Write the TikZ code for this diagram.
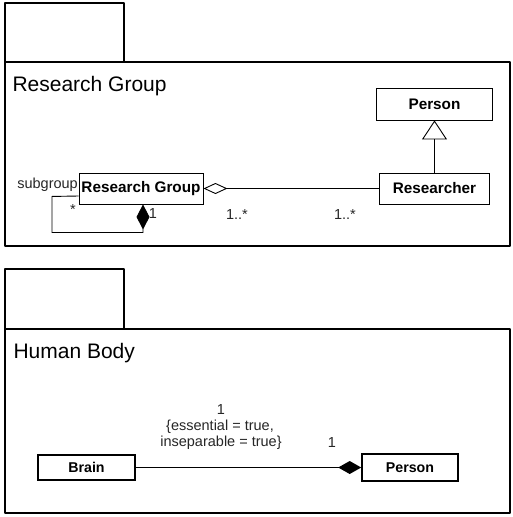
\documentclass[tikz,border=0pt]{standalone}
\usepackage{fontspec}
\setmainfont{Liberation Sans}
\usetikzlibrary{arrows.meta,calc}
\begin{document}
\begin{tikzpicture}[x=1pt,y=-1pt,
  pkg/.style={draw,line width=2.4pt,line join=round},
  cls/.style={draw,line width=0.9pt,inner sep=0pt,font=\bfseries\fontsize{15.3}{17}\selectfont},
  clsb/.style={cls,line width=1.6pt,font=\bfseries\fontsize{14.2}{16}\selectfont},
  title/.style={anchor=west,font=\fontsize{21}{25}\selectfont},
  lbl/.style={inner sep=0pt,font=\fontsize{14.5}{17}\selectfont,text=black!85},
  conn/.style={line width=0.9pt}]
\useasboundingbox (0,0) rectangle (512,517);
% package 1
\draw[pkg] (5,3) rectangle (124,62);
\draw[pkg] (5,62) rectangle (510,246);
\node[title] (t1) at (9,86) {Research Group};
\node[cls,minimum width=116pt,minimum height=32pt] (person1) at (434.5,104) {Person};
\node[cls,minimum width=110pt,minimum height=31pt] (researcher) at (434.5,188.5) {Researcher};
\node[cls,minimum width=124pt,minimum height=31pt] (rg) at (141,188.5) {Research Group};
\draw[conn,-{Triangle[open,length=19pt,width=25pt]}] (researcher) -- (person1);
\draw[conn,{Diamond[open,length=24pt,width=11pt]}-] (rg.east) -- (researcher.west);
\draw[conn,{Diamond[length=25pt,width=13pt]}-] ([xshift=2pt]rg.south) -- ++(0,28) -- ++(-91,0) -- ++(0,-36) -- ([yshift=-7.5pt]rg.west);
\node[lbl,anchor=east] (sg) at (78,185) {subgroup};
\node[lbl] (star) at (73,210) {*};
\node[lbl] (one1) at (153,214) {1};
\node[lbl] (m1) at (237,215) {1..*};
\node[lbl] (m2) at (345,215) {1..*};
% package 2
\draw[pkg] (5,269) rectangle (124,329);
\draw[pkg] (5,329) rectangle (510,513);
\node[title] (t2) at (10,353) {Human Body};
\node[clsb,minimum width=97pt,minimum height=25pt] (brain) at (86.5,467.5) {Brain};
\node[clsb,minimum width=96pt,minimum height=27pt] (person2) at (410,467.5) {Person};
\draw[line width=1.6pt,-{Diamond[length=23pt,width=13pt]}] (brain) -- (person2);
\node[lbl] (one2) at (221,410) {1};
\node[lbl] (ess) at (220,427) {\{essential = true,};
\node[lbl] (ins) at (221,443) {inseparable = true\}};
\node[lbl] (one3) at (332,443) {1};
\end{tikzpicture}
\end{document}
